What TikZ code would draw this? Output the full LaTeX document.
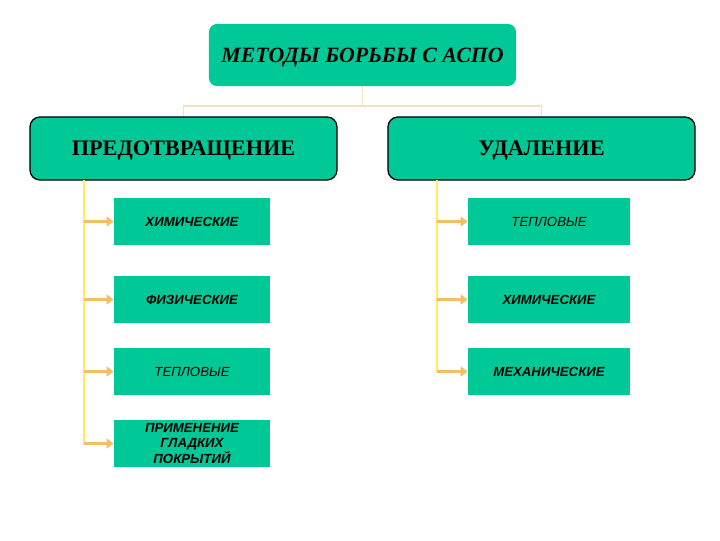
\documentclass[tikz,border=0pt]{standalone}
\usepackage{fontspec}
\setmainfont{Liberation Serif}
\setsansfont{Liberation Sans}
\usetikzlibrary{arrows.meta}
\definecolor{aspogreen}{RGB}{0,200,150}
\definecolor{paletan}{RGB}{242,224,190}
\definecolor{lineyellow}{RGB}{255,238,90}
\definecolor{arrowtan}{RGB}{242,192,100}

\begin{document}
\begin{tikzpicture}[x=0.025cm,y=-0.025cm,
	topbox/.style={fill=aspogreen,rounded corners=0.2cm,minimum width=7.675cm,minimum height=1.55cm,
		text height=10.5pt,text depth=0pt,font=\fontsize{15.5}{18}\selectfont\bfseries\itshape},
	mainbox/.style={fill=aspogreen,draw=black,line width=0.9pt,rounded corners=0.25cm,minimum width=7.675cm,
		minimum height=1.575cm,text height=10.5pt,text depth=0pt,font=\fontsize{15.8}{18}\selectfont\bfseries},
	subbox/.style={fill=aspogreen,minimum height=1.175cm,align=center,
		font=\sffamily\fontsize{9.4}{11.4}\selectfont\bfseries\itshape},
	lsub/.style={subbox,minimum width=3.9cm},
	rsub/.style={subbox,minimum width=4.05cm},
	thin/.style={font=\sffamily\fontsize{9.4}{11.4}\selectfont\itshape},
	link/.style={draw=paletan,line width=1.4pt},
	spine/.style={draw=lineyellow,line width=1.6pt},
	feed/.style={draw=arrowtan,line width=2.4pt,-{Triangle[length=5pt,width=7pt]}}]

\useasboundingbox (0,0) rectangle (720,540);

% top level
\node[topbox] (methods) at (362.5,55) {МЕТОДЫ БОРЬБЫ С АСПО};
\node[mainbox] (prevent) at (183.5,148.5) {ПРЕДОТВРАЩЕНИЕ};
\node[mainbox] (remove) at (541.5,148.5) {УДАЛЕНИЕ};

\coordinate (split) at (362.5,106);
\draw[link] (methods.south) -- (split);
\draw[link] (split) -| (prevent.north);
\draw[link] (split) -| (remove.north);

% prevention branch
\node[lsub] (pchem) at (192,221.5) {ХИМИЧЕСКИЕ};
\node[lsub] (pphys) at (192,299.5) {ФИЗИЧЕСКИЕ};
\node[lsub,thin] (pheat) at (192,371.5) {ТЕПЛОВЫЕ};
\node[lsub,inner ysep=0pt,font=\sffamily\fontsize{9.4}{11}\selectfont\bfseries\itshape] (psmooth) at (192,443.5)
	{ПРИМЕНЕНИЕ\\ГЛАДКИХ\\ПОКРЫТИЙ};

\coordinate (pbase) at (84,180);
\draw[spine] (pbase) -- (pbase |- psmooth.west);
\foreach \n in {pchem,pphys,pheat,psmooth}
	\draw[feed] (pbase |- \n.west) -- (\n.west);

% removal branch
\node[rsub,thin] (rheat) at (549,221.5) {ТЕПЛОВЫЕ};
\node[rsub] (rchem) at (549,299.5) {ХИМИЧЕСКИЕ};
\node[rsub] (rmech) at (549,371.5) {МЕХАНИЧЕСКИЕ};

\coordinate (rbase) at (437,180);
\draw[spine] (rbase) -- (rbase |- rmech.west);
\foreach \n in {rheat,rchem,rmech}
	\draw[feed] (rbase |- \n.west) -- (\n.west);

\end{tikzpicture}
\end{document}
